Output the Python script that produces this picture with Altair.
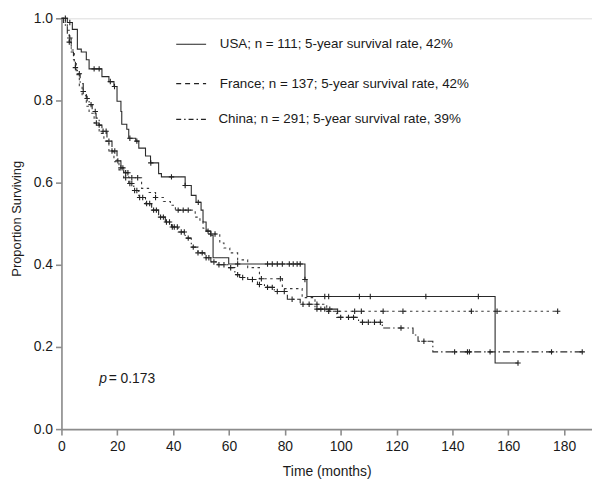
import altair as alt
import pandas as pd

# ---------------- data ----------------
usa_t = [0, 2.1, 3.9, 5.7, 7.1, 8.9, 9.9, 14.5, 17.0, 18.8, 19.9, 21.3, 21.6, 23.4, 24.1, 26.6,
         27.7, 30.1, 31.9, 34.8, 35.8, 44.3, 46.5, 48.2, 50.0, 50.7, 51.8, 53.5, 54.3, 59.9,
         87.2, 87.9, 155.3, 163.5]
usa_s = [1.0, 0.990, 0.973, 0.925, 0.918, 0.899, 0.877, 0.858, 0.846, 0.834, 0.798, 0.773, 0.742,
         0.730, 0.708, 0.701, 0.684, 0.665, 0.648, 0.622, 0.614, 0.593, 0.569, 0.552, 0.533, 0.504,
         0.482, 0.472, 0.417, 0.402, 0.364, 0.323, 0.161, 0.161]
usa_cens = [1.4, 3.0, 11.7, 13.5, 17.5, 19.0, 24.5, 27.0, 32.0, 39.4, 44.3, 49.0, 52.5, 63.1, 73.8,
            75.5, 77.3, 79.1, 81.6, 83.0, 84.4, 85.5, 87.2, 94.3, 95.7, 106.7, 110.6, 130.5, 149.3,
            163.5]

france_t = [0, 1.4, 2.1, 2.8, 3.5, 4.6, 5.3, 6.4, 7.4, 8.9, 9.9, 11.7, 13.5, 15.2, 17.0, 18.8,
            20.6, 22.3, 28.7, 31.2, 33.7, 36.5, 39.0, 40.8, 47.9, 49.6, 50.7, 52.1, 56.7, 58.2,
            60.3, 63.1, 66.7, 70.9, 79.1, 86.2, 90.8, 95.0, 177.7]
france_s = [1.0, 0.986, 0.971, 0.952, 0.923, 0.894, 0.863, 0.836, 0.812, 0.786, 0.769, 0.745,
            0.720, 0.701, 0.675, 0.651, 0.631, 0.612, 0.586, 0.576, 0.564, 0.554, 0.545, 0.533,
            0.516, 0.506, 0.489, 0.475, 0.453, 0.441, 0.429, 0.412, 0.393, 0.366, 0.342, 0.320,
            0.304, 0.287, 0.287]
france_cens = [3.0, 12.5, 23.0, 25.2, 27.3, 33.7, 41.8, 43.6, 45.4, 53.5, 55.0, 71.6, 78.4, 91.5,
               95.7, 98.9, 105.0, 107.4, 115.2, 122.3, 146.8, 156.0, 177.7]

china_t = [0, 0.7, 1.4, 2.1, 2.8, 3.5, 4.3, 5.0, 5.7, 6.7, 7.8, 8.9, 9.9, 11.0, 12.4, 13.5, 14.5,
           16.3, 18.1, 19.9, 21.3, 22.3, 24.1, 25.9, 27.7, 30.1, 32.3, 34.8, 37.2, 39.4, 41.8,
           44.3, 46.5, 48.9, 51.4, 53.5, 56.0, 59.6, 62.1, 63.8, 66.7, 70.2, 72.7, 76.2, 80.9,
           85.5, 90.8, 98.6, 106.4, 114.9, 125.9, 127.7, 133.0, 186.5]
china_s = [1.0, 0.990, 0.978, 0.961, 0.942, 0.918, 0.899, 0.880, 0.865, 0.841, 0.822, 0.805,
           0.790, 0.773, 0.757, 0.740, 0.725, 0.701, 0.677, 0.653, 0.636, 0.624, 0.598, 0.581,
           0.564, 0.549, 0.533, 0.516, 0.504, 0.492, 0.480, 0.465, 0.443, 0.429, 0.417, 0.407,
           0.400, 0.393, 0.376, 0.369, 0.364, 0.352, 0.345, 0.335, 0.316, 0.304, 0.292, 0.272,
           0.260, 0.246, 0.229, 0.214, 0.188, 0.188]
china_cens = [2.8, 5.0, 6.4, 7.8, 9.2, 10.6, 12.1, 13.5, 14.9, 16.0, 17.0, 18.1, 19.1, 20.2, 21.3,
              22.0, 23.0, 23.8, 24.5, 25.2, 26.2, 27.0, 28.0, 29.1, 30.5, 31.6, 33.0, 34.0, 35.5,
              36.5, 37.6, 38.7, 39.7, 40.4, 41.5, 42.9, 44.0, 45.4, 47.2, 48.9, 50.4, 51.8, 52.8,
              54.6, 56.4, 58.2, 60.6, 63.1, 64.9, 68.4, 70.9, 73.8, 75.5, 77.3, 79.8, 82.6, 86.5,
              88.7, 91.5, 92.9, 94.3, 96.1, 100.0, 102.8, 104.6, 107.8, 109.9, 112.1, 114.2,
              121.6, 129.8, 140.8, 145.4, 146.1, 153.5, 175.5, 186.5]

series_names = ["USA", "France", "China"]
legend_labels = ["USA; n = 111; 5-year survival rate, 42%",
                 "France; n = 137; 5-year survival rate, 42%",
                 "China; n = 291; 5-year survival rate, 39%"]
x_ticks = [0, 20, 40, 60, 80, 100, 120, 140, 160, 180]
y_ticks = [0.0, 0.2, 0.4, 0.6, 0.8, 1.0]

# ---------------- build tables ----------------
def step_value(ts, ss, t):
    v = ss[0]
    for ti, si in zip(ts, ss):
        if ti <= t:
            v = si
    return v

curves = {"USA": (usa_t, usa_s, usa_cens),
          "France": (france_t, france_s, france_cens),
          "China": (china_t, china_s, china_cens)}

line_rows, cens_rows = [], []
for name, (ts, ss, cs) in curves.items():
    for i, (t, s) in enumerate(zip(ts, ss)):
        line_rows.append({"series": name, "t": t, "s": s, "o": i})
    for c in cs:
        cens_rows.append({"series": name, "t": c, "s": step_value(ts, ss, c)})
lines_df = pd.DataFrame(line_rows)
cens_df = pd.DataFrame(cens_rows)

legend_rule_df = pd.DataFrame({
    "series": series_names,
    "t": [41.1, 41.1, 41.1],
    "t2": [51.8, 51.8, 51.8],
    "s": [0.937, 0.841, 0.754],
})
legend_text_df = pd.DataFrame({
    "label": legend_labels,
    "t": [56.7, 56.7, 56.2],
    "s": [0.937, 0.841, 0.754],
})
p_df = pd.DataFrame({"t": [13.5, 16.9], "s": [0.123, 0.123], "txt": ["p", "= 0.173"]})

FONT = "Liberation Sans"
TXT = "#1a1a1a"
AX = "#8c8c8c"

x_enc = alt.X("t:Q", scale=alt.Scale(domain=[0, 190], nice=False, zero=True),
              axis=alt.Axis(values=x_ticks, title="Time (months)", format="d",
                            grid=False, domainColor=AX, domainWidth=1.6, tickColor=AX,
                            tickWidth=1.6, tickSize=6, labelPadding=5, labelFontSize=14,
                            labelFont=FONT, labelColor=TXT, titleFont=FONT, titleFontSize=14,
                            titleColor=TXT, titleFontWeight="normal", titlePadding=11,
                            labelFlush=False))
y_enc = alt.Y("s:Q", scale=alt.Scale(domain=[0, 1], nice=False),
              axis=alt.Axis(values=y_ticks, format=".1f", title="Proportion Surviving",
                            grid=False, domainColor=AX, domainWidth=1.6, tickColor=AX,
                            tickWidth=1.6, tickSize=6, labelPadding=3, labelFontSize=14,
                            labelFont=FONT, labelColor=TXT, titleFont=FONT, titleFontSize=13,
                            titleColor=TXT, titleFontWeight="normal", titleAngle=-90,
                            titleX=-45, titleY=202, titleAlign="center",
                            titleBaseline="middle"))

dashes = {"USA": [1, 0], "France": [2.5, 3.5], "China": [7, 3, 1.5, 3]}
legend_dashes = {"USA": [1, 0], "France": [5, 4], "China": [5, 3, 1.5, 3]}
colors = {"USA": "#2a2a2a", "France": "#3a3a3a", "China": "#2a2a2a"}

layers = []
for name in series_names:
    layers.append(
        alt.Chart(lines_df).transform_filter(alt.datum.series == name)
        .mark_line(interpolate="step-after", strokeWidth=1.1, color=colors[name],
                   strokeDash=dashes[name])
        .encode(x=x_enc, y=y_enc, order="o:Q")
    )

plus = "M-1,0L1,0M0,-1L0,1"
layers.append(
    alt.Chart(cens_df).mark_point(shape=plus, size=30, filled=False, color="#222",
                                  strokeWidth=1.1, opacity=1).encode(x=x_enc, y=y_enc)
)

for name in series_names:
    layers.append(
        alt.Chart(legend_rule_df).transform_filter(alt.datum.series == name)
        .mark_rule(strokeWidth=1.1, color="#222", strokeDash=legend_dashes[name])
        .encode(x=x_enc, x2="t2:Q", y=y_enc)
    )

layers.append(
    alt.Chart(legend_text_df).mark_text(align="left", baseline="middle", font=FONT,
                                        fontSize=13.5, color=TXT)
    .encode(x=x_enc, y=y_enc, text="label:N")
)

layers.append(
    alt.Chart(p_df.iloc[[0]]).mark_text(align="left", baseline="middle", font=FONT,
                                        fontSize=14, fontStyle="italic", color=TXT)
    .encode(x=x_enc, y=y_enc, text="txt:N")
)
layers.append(
    alt.Chart(p_df.iloc[[1]]).mark_text(align="left", baseline="middle", font=FONT,
                                        fontSize=14, color=TXT)
    .encode(x=x_enc, y=y_enc, text="txt:N")
)

chart = alt.layer(*layers).properties(
    width=536, height=415,
    autosize=alt.AutoSizeParams(type="none"),
    padding={"left": 54, "top": 8, "right": 0, "bottom": 50},
).configure_view(stroke=None).configure(background="white")

chart.save("out.html", embed_options={"renderer": "svg", "actions": False})
